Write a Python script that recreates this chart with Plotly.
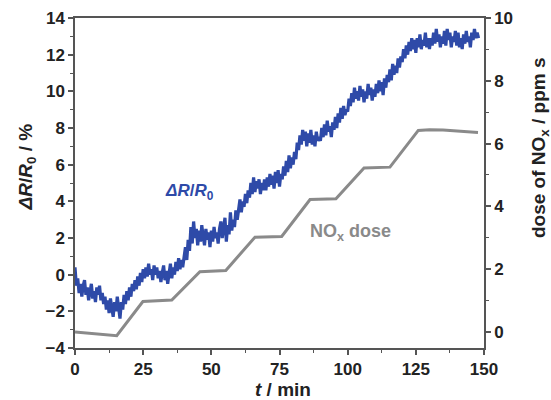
import plotly.graph_objects as go

# Resistance response, sampled every 0.5 min from t = 0
dR_R0 = [
    0.4, -0.6, -0.2, -1.0, -0.5, -1.2, -0.6, -0.3, -1.1, -0.7, -1.4, -0.8, -0.5, -1.3, -0.9, -1.5, -0.7, -1.1, -0.6, -1.4,
    -1.0, -1.6, -1.2, -1.9, -1.4, -2.1, -1.3, -1.8, -2.3, -1.5, -2.0, -1.2, -1.8, -2.4, -1.5, -1.9, -1.1, -1.6, -0.9, -1.4,
    -0.7, -1.2, -0.5, -0.9, -0.3, -0.8, -0.1, -0.6, 0.1, -0.4, 0.3, -0.2, 0.4, -0.1, 0.6, 0.0, 0.3, -0.3, 0.5, 0.0,
    0.4, -0.2, 0.2, -0.4, 0.1, 0.5, -0.3, 0.2, -0.5, 0.1, 0.6, -0.2, 0.4, 0.0, 0.7, 0.2, 0.9, 0.3, 0.8, 0.4,
    0.9, 1.5, 0.8, 1.9, 1.3, 2.6, 1.7, 2.9, 2.0, 2.5, 1.6, 2.4, 1.8, 2.7, 2.1, 1.6, 2.5, 1.9, 2.3, 1.5,
    2.4, 1.8, 2.6, 2.0, 2.3, 1.7, 2.5, 2.9, 2.0, 2.6, 3.1, 1.8, 2.7, 2.2, 3.4, 2.4, 3.0, 2.6, 3.5, 3.0,
    3.5, 4.1, 3.4, 4.0, 3.7, 4.4, 3.9, 4.6, 4.2, 5.0, 4.4, 5.3, 4.5, 5.1, 4.7, 5.2, 4.4, 5.0, 4.6, 5.2,
    4.6, 5.3, 4.8, 5.5, 4.9, 5.4, 4.7, 5.6, 5.0, 5.7, 4.8, 5.5, 5.2, 5.9, 5.4, 6.2, 5.6, 6.5, 5.8, 6.4,
    6.0, 6.7, 6.3, 7.2, 6.8, 7.6, 7.1, 7.9, 7.3, 7.8, 7.0, 7.7, 7.2, 7.9, 7.1, 7.6, 7.0, 7.8, 7.3, 7.5,
    7.3, 8.0, 7.5, 8.2, 7.6, 8.4, 7.8, 8.1, 7.5, 8.3, 7.9, 8.6, 8.0, 8.8, 8.3, 9.1, 8.5, 9.2, 8.7, 9.0,
    8.9, 9.6, 9.2, 9.9, 9.4, 10.2, 9.6, 10.0, 9.5, 10.3, 9.7, 10.1, 9.4, 10.0, 9.6, 10.4, 9.8, 10.2, 9.5, 10.1,
    9.7, 10.4, 9.9, 10.6, 10.0, 10.5, 9.8, 10.7, 10.2, 10.9, 10.5, 11.2, 10.6, 11.5, 10.9, 11.4, 11.0, 11.8, 11.3, 11.9,
    11.6, 12.3, 11.8, 12.5, 12.0, 12.7, 12.2, 12.9, 12.3, 12.8, 12.1, 12.9, 12.4, 13.1, 12.3, 12.8, 12.5, 13.2, 12.4, 12.9,
    12.3, 12.9, 12.5, 13.2, 12.6, 13.4, 12.7, 13.1, 12.4, 13.0, 12.6, 13.3, 12.5, 13.4, 12.8, 13.2, 12.4, 13.0, 12.7, 13.3,
    12.5, 13.2, 12.4, 12.9, 12.3, 13.1, 12.6, 13.3, 12.7, 13.0, 12.4, 13.2, 12.8, 13.4, 12.9, 13.2, 12.9,
]
t_resp = [i * 0.5 for i in range(len(dR_R0))]

# NOx dose (ppm s) breakpoints
t_dose = [0, 15.3, 24.9, 35.5, 45.8, 55.3, 66.0, 75.8, 86.2, 95.7, 106.0, 115.5, 125.9, 130, 135, 140, 147.8]
dose = [0.0, -0.12, 0.97, 1.02, 1.92, 1.96, 3.02, 3.04, 4.22, 4.24, 5.22, 5.25, 6.42, 6.44, 6.43, 6.40, 6.35]

x_ticks = [0, 25, 50, 75, 100, 125, 150]
y_ticks = [-4, -2, 0, 2, 4, 6, 8, 10, 12, 14]
y2_ticks = [0, 2, 4, 6, 8, 10]

BLUE = "#2E4AA8"
GRAY = "#8A8A8A"
AX = "#555555"
TXT = "#222222"
FONT = "Liberation Sans"

fig = go.Figure()
fig.add_trace(go.Scatter(x=t_dose, y=dose, yaxis="y2", mode="lines",
                         line=dict(color=GRAY, width=3), hoverinfo="skip"))
fig.add_trace(go.Scatter(x=t_resp, y=dR_R0, mode="lines",
                         line=dict(color=BLUE, width=3.2), hoverinfo="skip"))

tickfont = dict(family=FONT, size=17, color=TXT, weight="bold")
common = dict(showline=True, linecolor=AX, linewidth=1.5, ticks="outside",
              tickcolor=AX, tickwidth=1.5, ticklen=5, showgrid=False,
              zeroline=False, tickfont=tickfont, automargin=False)

fig.update_layout(
    width=551, height=400,
    margin=dict(l=75, r=67, t=18, b=52, autoexpand=False),
    paper_bgcolor="white", plot_bgcolor="white",
    showlegend=False,
    xaxis=dict(range=[0, 150], tickvals=x_ticks, mirror=True,
               minor=dict(dtick=12.5, ticks="outside", ticklen=3, tickcolor=AX, tickwidth=1.2),
               **common),
    yaxis=dict(range=[-4, 14], tickvals=y_ticks,
               minor=dict(dtick=1, ticks="outside", ticklen=3, tickcolor=AX, tickwidth=1.2),
               **common),
    yaxis2=dict(range=[-0.51, 10.0], tickvals=y2_ticks, overlaying="y", side="right",
                minor=dict(dtick=1, tick0=0, ticks="outside", ticklen=3, tickcolor=AX, tickwidth=1.2),
                **common),
)

ann_font = dict(family=FONT, size=19, color=TXT, weight="bold")
fig.add_annotation(text="<i>ΔR</i>/<i>R</i><sub>0</sub> / %", xref="paper", yref="paper",
                   x=-0.115, y=0.55, textangle=-90, showarrow=False, font=ann_font,
                   xanchor="center", yanchor="middle")
fig.add_annotation(text="dose of NO<sub>x</sub> / ppm s", xref="paper", yref="paper",
                   x=1.137, y=0.606, textangle=-90, showarrow=False, font=ann_font,
                   xanchor="center", yanchor="middle")
fig.add_annotation(text="<i>t</i> / min", xref="paper", yref="paper",
                   x=0.508, y=-0.127, showarrow=False, font=ann_font,
                   xanchor="center", yanchor="middle")
fig.add_annotation(text="<i>ΔR</i>/<i>R</i><sub>0</sub>", x=42, y=4.5, showarrow=False,
                   font=dict(family=FONT, size=17, color=BLUE, weight="bold"))
fig.add_annotation(text="NO<sub>x</sub> dose", x=101, y=2.3, showarrow=False,
                   font=dict(family=FONT, size=18, color=GRAY, weight="bold"))

fig.write_html("out.html", config={"displayModeBar": False},
               post_script="document.body.style.margin='0';document.body.style.overflow='hidden';")
